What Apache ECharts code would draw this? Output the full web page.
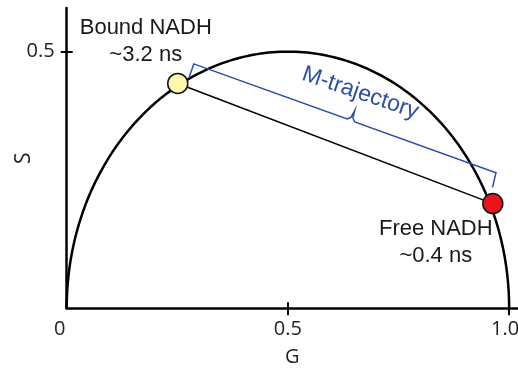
<!DOCTYPE html>
<html>
<head>
<meta charset="utf-8">
<script src="https://cdn.jsdelivr.net/npm/echarts@6/dist/echarts.min.js"></script>
<style>
  html, body { margin: 0; padding: 0; background: #fff; }
  #main { width: 518px; height: 373px; }
</style>
</head>
<body>
<div id="main"></div>
<script>
// phasor data
const species = ['Bound NADH', 'Free NADH'];
const lifetimes = ['~3.2 ns', '~0.4 ns'];
const gValues = [0.251, 0.963];
const sValues = [0.438, 0.204];
const pointColors = ['#fff6ae', '#e8141c'];
const xTickValues = [0.5, 1.0];
const xLabelValues = [0, 0.5, 1.0];
const yTickValues = [0.5];
const bracketLabel = 'M-trajectory';

// universal circle: centre (0.5, 0), radius 0.5
const circleCenter = 0.5;
const circleRadius = 0.5;

const axisFont = 'Open Sans';
const noteFont = 'Liberation Sans';
const blue = '#2c4fa6';

const chart = echarts.init(document.getElementById('main'));

function circleItem(params, api) {
    const pts = [];
    for (let k = 0; k <= 180; k++) {
        const a = Math.PI * k / 180;
        pts.push(api.coord([circleCenter + circleRadius * Math.cos(a), circleRadius * Math.sin(a)]));
    }
    return {
        type: 'polyline',
        shape: {points: pts},
        style: {stroke: '#000', lineWidth: 2.5, fill: null}
    };
}

function bracketItem(params, api) {
    const p1 = api.coord([gValues[0], sValues[0]]);
    const p2 = api.coord([gValues[1], sValues[1]]);
    const dx = p2[0] - p1[0], dy = p2[1] - p1[1];
    const len = Math.sqrt(dx * dx + dy * dy);
    const d = [dx / len, dy / len];
    const n = [d[1], -d[0]]; // normal pointing up-right
    const at = (base, along, off) => [base[0] + d[0] * along + n[0] * off, base[1] + d[1] * along + n[1] * off];
    const cL = at(p1, 8, 24);
    const cR = at(p2, -8, 30);
    const mid = [cL[0] + (cR[0] - cL[0]) * 0.52, cL[1] + (cR[1] - cL[1]) * 0.52];
    const pts = [
        at(p1, 8.5, 9), cL,
        at(mid, -4, 0), at(mid, -1, 3), at(mid, 0, 11), at(mid, 1, 3), at(mid, 4, 0),
        cR, at(p2, -6, 15)
    ];
    const tc = at(mid, -1, 29);
    return {
        type: 'group',
        children: [
            {
                type: 'polyline',
                shape: {points: pts},
                style: {stroke: blue, lineWidth: 1.5, fill: null}
            },
            {
                type: 'text',
                x: tc[0],
                y: tc[1],
                rotation: -Math.atan2(dy, dx) + 2 * Math.PI / 180,
                style: {
                    text: bracketLabel,
                    fill: blue,
                    font: '23px "' + noteFont + '"',
                    align: 'center',
                    verticalAlign: 'middle'
                }
            }
        ]
    };
}

const option = {
    animation: false,
    grid: {left: 66.7, right: 0, top: 8, bottom: 64.7, outerBoundsMode: 'none', containLabel: false},
    xAxis: [
        {
            type: 'value', min: 0, max: 1.02,
            name: 'G', nameLocation: 'middle', nameGap: 39, nameMoveOverlap: false,
            nameTextStyle: {fontFamily: axisFont, fontSize: 20, color: '#222'},
            axisLine: {onZero: false, lineStyle: {color: '#000', width: 2.5}},
            axisTick: {show: true, customValues: xTickValues, length: 7, lineStyle: {color: '#000', width: 2}},
            axisLabel: {
                customValues: xLabelValues, margin: 11,
                fontFamily: axisFont, fontSize: 20, color: '#222',
                formatter: v => v === 0 ? '{l|0}' : (v === 1 ? '{r|1.0}' : v.toFixed(1)),
                rich: {
                    l: {fontFamily: axisFont, fontSize: 20, color: '#222', padding: [0, 14, 0, 0]},
                    r: {fontFamily: axisFont, fontSize: 20, color: '#222', padding: [0, 8, 0, 0]}
                }
            },
            splitLine: {show: false}
        },
        {
            type: 'value', min: 0, max: 1.02, position: 'bottom',
            axisLine: {show: false},
            axisTick: {show: true, inside: true, customValues: xTickValues, length: 6, lineStyle: {color: '#000', width: 2}},
            axisLabel: {show: false},
            splitLine: {show: false}
        }
    ],
    yAxis: [
        {
            type: 'value', min: 0, max: 0.585,
            name: 'S', nameLocation: 'middle', nameGap: 32, nameRotate: 90, nameMoveOverlap: false,
            nameTextStyle: {fontFamily: axisFont, fontSize: 21, color: '#222'},
            axisLine: {onZero: false, lineStyle: {color: '#000', width: 2.5}},
            axisTick: {show: true, customValues: yTickValues, length: 6, lineStyle: {color: '#000', width: 2}},
            axisLabel: {
                customValues: yTickValues, margin: 12,
                fontFamily: axisFont, fontSize: 20, color: '#222',
                formatter: v => v.toFixed(1)
            },
            splitLine: {show: false}
        },
        {
            type: 'value', min: 0, max: 0.585, position: 'left',
            axisLine: {show: false},
            axisTick: {show: true, inside: true, customValues: yTickValues, length: 6, lineStyle: {color: '#000', width: 2}},
            axisLabel: {show: false},
            splitLine: {show: false}
        }
    ],
    series: [
        {
            type: 'custom',
            renderItem: circleItem,
            data: [[circleCenter, 0]],
            clip: false,
            silent: true,
            z: 2
        },
        {
            type: 'line',
            data: gValues.map((g, i) => [g, sValues[i]]),
            showSymbol: false,
            lineStyle: {color: '#000', width: 1.5},
            z: 3
        },
        {
            type: 'custom',
            renderItem: bracketItem,
            data: [[gValues[0], sValues[0]]],
            clip: false,
            silent: true,
            z: 3
        },
        {
            type: 'scatter',
            symbolSize: 20,
            z: 5,
            data: gValues.map((g, i) => ({
                value: [g, sValues[i]],
                itemStyle: {color: pointColors[i], borderColor: '#111', borderWidth: 1.5, opacity: 1},
                label: {
                    show: true,
                    formatter: species[i] + '\n' + lifetimes[i],
                    position: i === 0 ? 'top' : 'bottom',
                    distance: i === 0 ? 4 : 1,
                    offset: i === 0 ? [-32, 0] : [-57, 0],
                    fontFamily: noteFont,
                    fontSize: 22,
                    lineHeight: 27,
                    color: '#1a1a1a',
                    align: 'center'
                }
            }))
        }
    ]
};

chart.setOption(option);
</script>
</body>
</html>
